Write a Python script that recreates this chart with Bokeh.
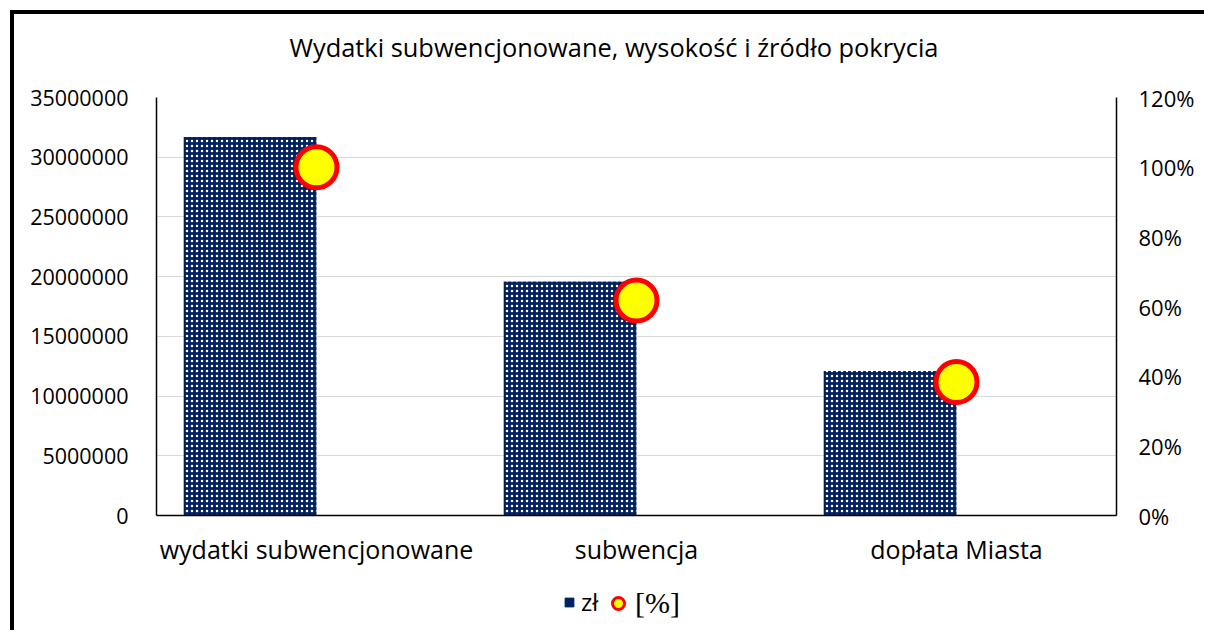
from bokeh.plotting import figure
from bokeh.layouts import column
from bokeh.models import (FactorRange, Range1d, LinearAxis, FixedTicker, Legend, LegendItem,
                          CustomJSTickFormatter, NumeralTickFormatter)
from bokeh.transform import dodge
from bokeh.embed import file_html
from bokeh.resources import INLINE

title_text = "Wydatki subwencjonowane, wysokość i źródło pokrycia"
categories = ["wydatki subwencjonowane", "subwencja", "dopłata Miasta"]
amounts_zl = [31700000, 19600000, 12100000]
shares_pct = [100.0, 61.7, 38.3]
left_ticks = [0, 5000000, 10000000, 15000000, 20000000, 25000000, 30000000, 35000000]
right_ticks = [0, 20, 40, 60, 80, 100, 120]
legend_labels = ["zł", "[%]"]

FONT = "Open Sans"
NAVY = "#002060"
W = 1190

# --- title strip ---
tf = figure(width=W, height=64, output_backend="svg", toolbar_location=None,
            x_axis_type=None, y_axis_type=None,
            min_border_left=0, min_border_right=0, min_border_top=0, min_border_bottom=0)
tf.grid.visible = False
tf.outline_line_color = None
tf.title.text = title_text
tf.title.text_font = FONT
tf.title.text_font_style = "normal"
tf.title.text_font_size = "25.4px"
tf.title.text_color = "black"
tf.title.align = "left"
tf.title.offset = 133
tf.title.standoff = 27

# --- main chart ---
p = figure(x_range=FactorRange(*categories), y_range=Range1d(0, 35000000),
           width=W, height=502, output_backend="svg", toolbar_location=None,
           min_border_left=142, min_border_right=88, min_border_top=19, min_border_bottom=65)
p.outline_line_color = None
p.title.text = ""
p.title.standoff = 0

bars = p.vbar(x=dodge("x", -0.2075, range=p.x_range), top="top", width=0.415,
              source=dict(x=categories, top=amounts_zl),
              fill_color=NAVY, line_color=None,
              hatch_pattern="dot", hatch_color="white", hatch_scale=5, hatch_weight=0.8)

p.extra_y_ranges = {"pct": Range1d(0, 120)}
pts = p.scatter(x="x", y="y", source=dict(x=categories, y=shares_pct), y_range_name="pct",
                size=41, fill_color="yellow", line_color="red", line_width=5)

yl = p.yaxis[0]
yl.ticker = FixedTicker(ticks=left_ticks)
yl.formatter = NumeralTickFormatter(format="0")
yr = LinearAxis(y_range_name="pct", ticker=FixedTicker(ticks=right_ticks),
                formatter=CustomJSTickFormatter(code="return tick.toFixed(0) + '%';"))
p.add_layout(yr, "right")

for ax in [yl, yr, p.xaxis[0]]:
    ax.major_tick_line_color = None
    ax.minor_tick_line_color = None
    ax.axis_line_color = "black"
    ax.axis_line_width = 1.5
    ax.major_label_text_font = FONT
    ax.major_label_text_color = "black"
yl.major_label_text_font_size = "21.5px"
yr.major_label_text_font_size = "22px"
yl.major_label_standoff = 22
yr.major_label_standoff = 16
p.xaxis.major_label_text_font_size = "25px"
p.xaxis.major_label_standoff = 10

p.xgrid.grid_line_color = None
p.ygrid.grid_line_color = "#d9d9d9"
p.ygrid.ticker = FixedTicker(ticks=left_ticks)

# --- legend strip (legend drawn inside its own frame) ---
lf = figure(x_range=FactorRange(*categories), y_range=Range1d(0, 35000000),
            width=W, height=50, output_backend="svg", toolbar_location=None,
            x_axis_type=None, y_axis_type=None,
            min_border_left=0, min_border_right=0, min_border_top=0, min_border_bottom=0)
lf.grid.visible = False
lf.outline_line_color = None
lf.extra_y_ranges = {"pct": Range1d(0, 120)}

sw_bar = lf.scatter(x="x", y="y", source=dict(x=categories, y=amounts_zl), marker="square",
                    fill_color=NAVY, line_color=NAVY, visible=False)
sw_pt = lf.scatter(x="x", y="y", source=dict(x=categories, y=shares_pct), marker="circle",
                   y_range_name="pct", fill_color="yellow", line_color="red", line_width=3,
                   visible=False)

leg1 = Legend(items=[LegendItem(label=legend_labels[0], renderers=[sw_bar])],
              location=(402, 12), glyph_width=22, glyph_height=22,
              label_text_font=FONT, label_text_font_size="24px", label_text_color="black",
              background_fill_alpha=0, border_line_color=None, padding=0, margin=0,
              label_standoff=1, label_height=22)
leg2 = Legend(items=[LegendItem(label=legend_labels[1], renderers=[sw_pt])],
              location=(447, 10), glyph_width=30, glyph_height=30,
              label_text_font="Liberation Serif", label_text_font_size="30px",
              label_text_color="black",
              background_fill_alpha=0, border_line_color=None, padding=0, margin=0,
              label_standoff=2, label_height=30)
lf.add_layout(leg1, "center")
lf.add_layout(leg2, "center")

layout = column(tf, p, lf, spacing=0)
layout.styles = {"border-left": "4px solid black", "border-top": "4px solid black",
                 "margin-left": "10px", "margin-top": "10px"}

open("out.html", "w").write(file_html(layout, INLINE))
